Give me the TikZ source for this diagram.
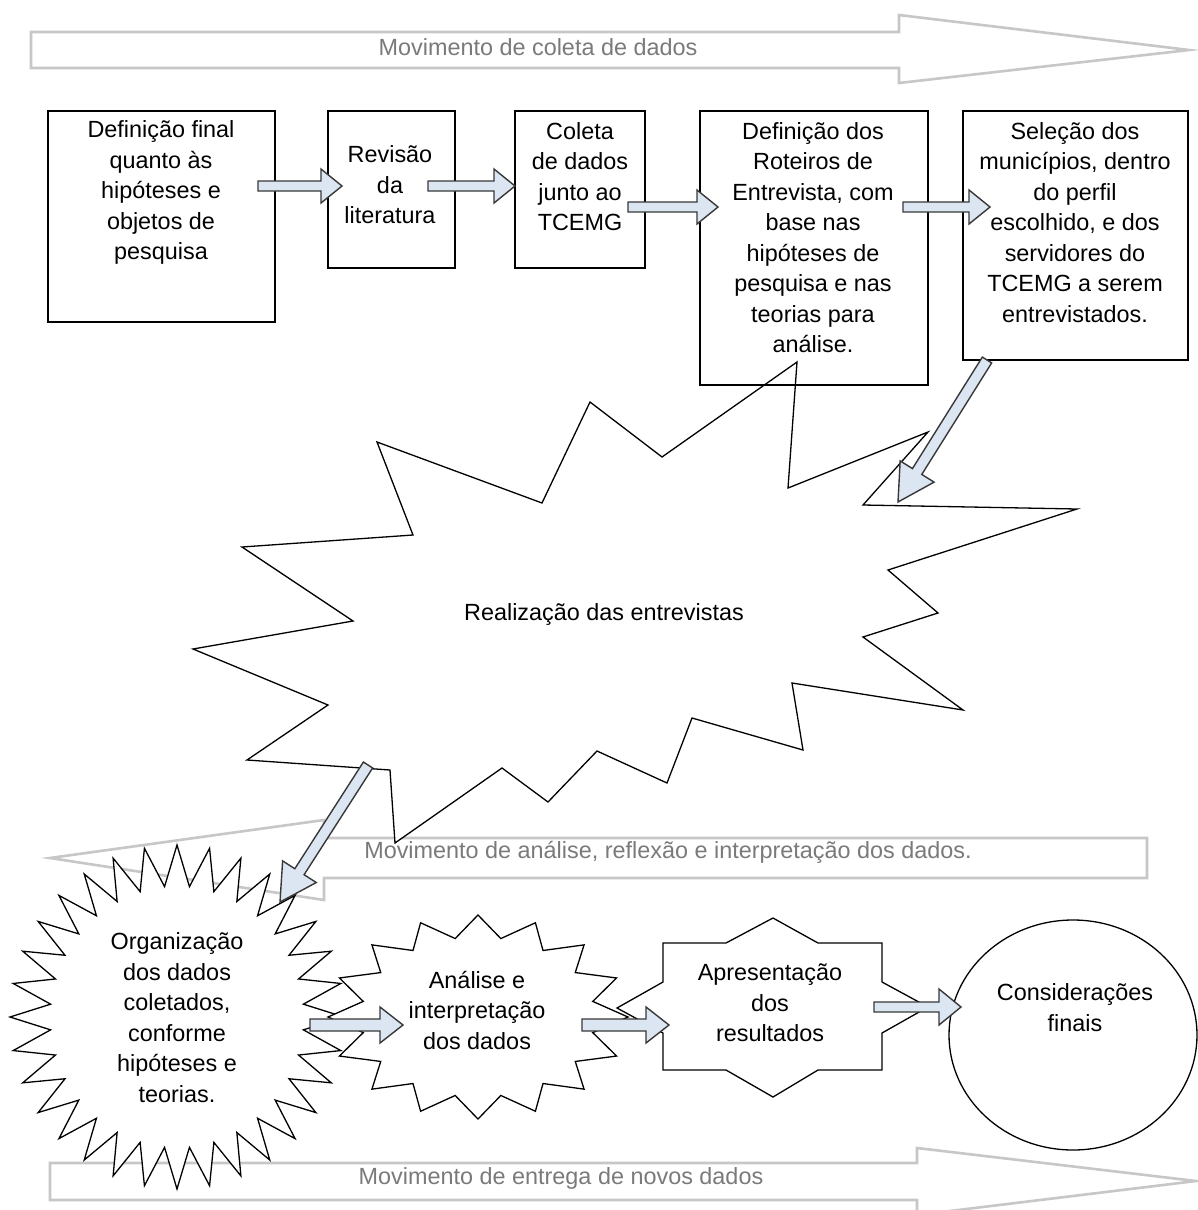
\documentclass[tikz,border=0pt]{standalone}
\usepackage{fontspec}
\setmainfont{Liberation Sans}
\usetikzlibrary{calc,shapes.geometric}
\definecolor{arrowfill}{HTML}{DCE6F2}
\tikzset{
  movearrow/.style={draw=black!22, line width=2.6pt, fill=white},
  movetext/.style={text=black!52, font=\fontsize{23.4}{30.5}\selectfont, inner sep=0pt},
  procbox/.style={draw=black, line width=1.6pt, inner sep=0pt},
  boxtext/.style={text=black, font=\fontsize{23.4}{30.5}\selectfont, align=center, inner sep=0pt},
  burst/.style={draw=black, line width=1.3pt, fill=white},
  blockarrow/.style={draw=black!78, line width=1.4pt, fill=arrowfill},
}
\newcommand{\blockarr}[5]{%
  \path ($(#2)!#5!(#1)$) coordinate (bahd);
  \draw[blockarrow] ($(#1)!#3!90:(#2)$) -- ($(bahd)!#3!90:(#2)$) -- ($(bahd)!#4!90:(#2)$) -- (#2)
    -- ($(bahd)!#4!-90:(#2)$) -- ($(bahd)!#3!-90:(#2)$) -- ($(#1)!#3!-90:(#2)$) -- cycle;
}
\begin{document}
\begin{tikzpicture}[x=1pt,y=-1pt]
\useasboundingbox (0,0) rectangle (1198,1210);
\clip (0,0) rectangle (1198,1210);
\fill[white] (0,0) rectangle (1198,1210);

% movement arrows (background)
\draw[movearrow] (31,32) -- (899,32) -- (899,15) -- (1189,50) -- (899,83) -- (899,68) -- (31,68) -- cycle;
\draw[movearrow] (1147,838) -- (324,838) -- (324,820) -- (50,858) -- (324,900) -- (324,878) -- (1147,878) -- cycle;
\draw[movearrow] (50,1163) -- (917,1163) -- (917,1148) -- (1196,1181) -- (917,1215) -- (917,1200) -- (50,1200) -- cycle;

% big burst
\draw[burst] (377,442) -- (542,503) -- (590,402) -- (662,457) -- (797,362) -- (788,488) -- (928,432) -- (863,505)
  -- (1077,509) -- (888,570) -- (938,613) -- (863,637) -- (963,710) -- (792,683) -- (803,750) -- (692,718)
  -- (667,783) -- (597,751) -- (548,802) -- (502,768) -- (395,843) -- (390,770) -- (247,760) -- (328,705)
  -- (193,649) -- (353,621) -- (242,547) -- (413,535) -- cycle;

% 32-point star
\draw[burst] plot[domain=0:63, samples=64, variable=\k]
  ({177+(147+20*cos(180*\k))*cos(90+5.625*\k)}, {1017-(151.5+20.5*cos(180*\k))*sin(90+5.625*\k)}) -- cycle;
% 16-point star
\draw[burst] plot[domain=0:31, samples=32, variable=\k]
  ({478+(133.5+16.5*cos(180*\k))*cos(90+11.25*\k)}, {1017-(91+11*cos(180*\k))*sin(90+11.25*\k)}) -- cycle;
% 8-point star
\draw[burst] (663,943) -- (726,943) -- (773,918) -- (818,943) -- (882,943) -- (882,982) -- (928,1007) -- (882,1033)
  -- (882,1070) -- (818,1070) -- (773,1097) -- (726,1070) -- (663,1070) -- (663,1033) -- (617,1008) -- (663,982) -- cycle;
% ellipse
\node[burst, ellipse, minimum width=248pt, minimum height=230pt, inner sep=0pt] (c5) at (1073,1035) {};

% boxes
\node[procbox, minimum width=227pt, minimum height=211pt] (b1) at (161.5,216.5) {};
\node[procbox, minimum width=127pt, minimum height=157pt] (b2) at (391.5,189.5) {};
\node[procbox, minimum width=130pt, minimum height=157pt] (b3) at (580,189.5) {};
\node[procbox, minimum width=228pt, minimum height=274pt] (b4) at (814,248) {};
\node[procbox, minimum width=225pt, minimum height=249pt] (b5) at (1075.5,235.5) {};

% texts
\node[movetext] (m1) at (538,47) {Movimento de coleta de dados};
\node[movetext] (m2) at (668,852) {Movimento de análise, reflexão e interpretação dos dados.};
\node[movetext] (m3) at (561,1178) {Movimento de entrega de novos dados};

\node[boxtext] (t1) at (161,192.5) {Definição final\\quanto às\\hipóteses e\\objetos de\\pesquisa};
\node[boxtext] (t2) at (390,185) {Revisão\\da\\literatura};
\node[boxtext] (t3) at (580,176.5) {Coleta\\de dados\\junto ao\\TCEMG};
\node[boxtext] (t4) at (813,237.5) {Definição dos\\Roteiros de\\Entrevista, com\\base nas\\hipóteses de\\pesquisa e nas\\teorias para\\análise.};
\node[boxtext] (t5) at (1075,222.5) {Seleção dos\\municípios, dentro\\do perfil\\escolhido, e dos\\servidores do\\TCEMG a serem\\entrevistados.};
\node[boxtext] (s0) at (604,614) {Realização das entrevistas};
\node[boxtext] (s1) at (177,1017.5) {Organização\\dos dados\\coletados,\\conforme\\hipóteses e\\teorias.};
\node[boxtext] (s2) at (477,1010) {Análise e\\interpretação\\dos dados};
\node[boxtext] (s3) at (770,1003) {Apresentação\\dos\\resultados};
\node[boxtext] (s4) at (1075,1007.5) {Considerações\\finais};

% connector end points
\coordinate (a1s) at (258,186); \coordinate (a1e) at (342,186);
\coordinate (a2s) at (428,186); \coordinate (a2e) at (515,186);
\coordinate (a3s) at (628,207); \coordinate (a3e) at (718,207);
\coordinate (a4s) at (903,207); \coordinate (a4e) at (990,207);
\coordinate (a5s) at (987,360); \coordinate (a5e) at (898,502);
\coordinate (a6s) at (368,765); \coordinate (a6e) at (280,902);
\coordinate (a7s) at (310,1025); \coordinate (a7e) at (403,1025);
\coordinate (a8s) at (582,1025); \coordinate (a8e) at (669,1025);
\coordinate (a9s) at (874,1007); \coordinate (a9e) at (961,1007);

\blockarr{a1s}{a1e}{5pt}{17pt}{21pt}
\blockarr{a2s}{a2e}{5pt}{17pt}{21pt}
\blockarr{a3s}{a3e}{5pt}{17pt}{21pt}
\blockarr{a4s}{a4e}{5pt}{17pt}{21pt}
\blockarr{a5s}{a5e}{5.5pt}{20pt}{36pt}
\blockarr{a6s}{a6e}{5.5pt}{20pt}{36pt}
\blockarr{a7s}{a7e}{6pt}{18pt}{23pt}
\blockarr{a8s}{a8e}{6pt}{18pt}{23pt}
\blockarr{a9s}{a9e}{5pt}{18pt}{22pt}
\end{tikzpicture}
\end{document}
